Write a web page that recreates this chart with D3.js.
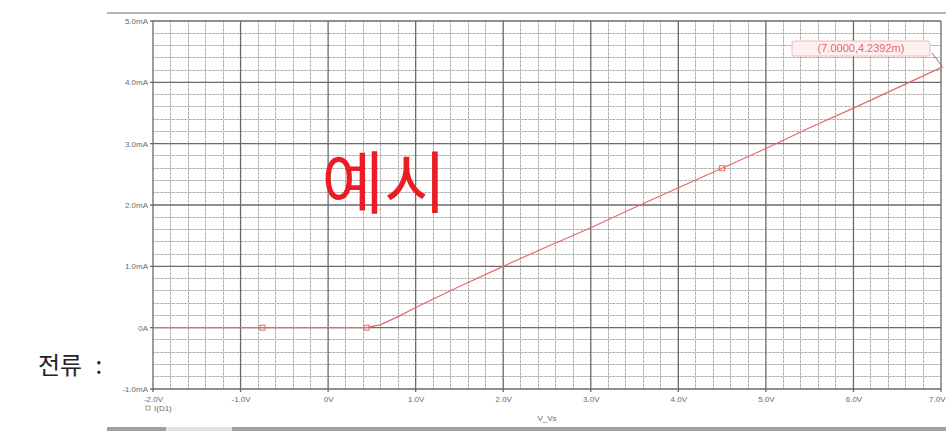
<!DOCTYPE html>
<html>
<head>
<meta charset="utf-8">
<script src="https://cdn.jsdelivr.net/npm/d3@7/dist/d3.min.js"></script>
<style>
  html, body { margin: 0; padding: 0; background: #fff; }
  svg { display: block; }
</style>
</head>
<body>
<div id="chart"></div>
<script>
// ---- Daten ----
const xTicks = [-2, -1, 0, 1, 2, 3, 4, 5, 6, 7];
const xTickLabels = ['-2.0V', '-1.0V', '0V', '1.0V', '2.0V', '3.0V', '4.0V', '5.0V', '6.0V', '7.0V'];
const yTicks = [-1, 0, 1, 2, 3, 4, 5];
const yTickLabels = ['-1.0mA', '0A', '1.0mA', '2.0mA', '3.0mA', '4.0mA', '5.0mA'];

// V_Vs in Volt, I(D1) in mA
const vsVolts =    [-2, -1.5, -0.75, 0, 0.3, 0.44, 0.6, 0.8, 1.0, 1.5, 2.0, 2.5, 3.0, 3.5, 4.0, 4.5, 5.0, 5.5, 6.0, 6.5, 7.0];
const idMilliamps = [0, 0, 0, 0, 0, 0, 0.05, 0.18, 0.33, 0.67, 1.0, 1.32, 1.63, 1.96, 2.28, 2.60, 2.92, 3.26, 3.58, 3.91, 4.2392];
const markerIdx = [2, 5, 15];   // Punkte mit Symbol

const traceName = 'I(D1)';
const xAxisTitle = 'V_Vs';
const cursorLabel = '(7.0000,4.2392m)';
const cursorIdx = vsVolts.length - 1;
const watermark = '예시';
const sideLabel = '전류 :';

const W = 946, H = 431;
const svg = d3.select('#chart').append('svg').attr('width', W).attr('height', H);

const x = d3.scaleLinear().domain([-2, 7]).range([153, 941]);
const y = d3.scaleLinear().domain([-1, 5]).range([389, 21]);

// Fensterrahmen oben
svg.append('line')
  .attr('x1', 107).attr('x2', W).attr('y1', 13).attr('y2', 13)
  .attr('stroke', '#b4b4b4').attr('stroke-width', 2);

// ---- Gitter ----
const gGrid = svg.append('g').attr('class', 'grid');
const xMinor = d3.range(-2, 7.0001, 0.2).filter(v => Math.abs(v - Math.round(v)) > 1e-6);
const yMinor = d3.range(-1, 5.0001, 0.2).filter(v => Math.abs(v - Math.round(v)) > 1e-6);

// feine Linien (hell + Punkte)
[['#cdcdcd', null], ['#959595', '1,3']].forEach(([col, dash]) => {
  gGrid.selectAll(null).data(xMinor).join('line')
    .attr('x1', d => x(d)).attr('x2', d => x(d))
    .attr('y1', y(5)).attr('y2', y(-1))
    .attr('stroke', col).attr('stroke-dasharray', dash)
    .attr('shape-rendering', 'crispEdges');
  gGrid.selectAll(null).data(yMinor).join('line')
    .attr('x1', x(-2)).attr('x2', x(7))
    .attr('y1', d => y(d)).attr('y2', d => y(d))
    .attr('stroke', col).attr('stroke-dasharray', dash)
    .attr('shape-rendering', 'crispEdges');
});

// Hauptlinien
gGrid.selectAll('line.major-x').data(xTicks).join('line')
  .attr('class', 'major-x')
  .attr('x1', d => x(d)).attr('x2', d => x(d))
  .attr('y1', y(5)).attr('y2', y(-1) + 3)
  .attr('stroke', '#6a6a6a').attr('stroke-width', 1.3);
gGrid.selectAll('line.major-y').data(yTicks).join('line')
  .attr('class', 'major-y')
  .attr('x1', x(-2) - 3).attr('x2', x(7))
  .attr('y1', d => y(d)).attr('y2', d => y(d))
  .attr('stroke', '#6a6a6a').attr('stroke-width', 1.3);

// ---- Achsenbeschriftung ----
const tickFont = 'Liberation Sans, Arial, sans-serif';
const xAxis = d3.axisBottom(x).tickValues(xTicks).tickSize(0)
  .tickFormat((d, i) => xTickLabels[i]);
svg.append('g')
  .attr('transform', `translate(0,${y(-1) + 4})`)
  .call(xAxis)
  .call(g => {
    g.select('.domain').remove();
    g.selectAll('text').attr('font-family', tickFont).attr('font-size', 8).attr('fill', '#6a6a6a');
    // letztes Label am rechten Rand bündig, damit es nicht abgeschnitten wird
    g.selectAll('.tick text').filter(d => d === 7).attr('text-anchor', 'end').attr('x', 4);
  });

const yAxis = d3.axisLeft(y).tickValues(yTicks).tickSize(0)
  .tickFormat((d, i) => yTickLabels[i]);
svg.append('g')
  .attr('transform', `translate(${x(-2) - 2},0)`)
  .call(yAxis)
  .call(g => {
    g.select('.domain').remove();
    g.selectAll('text').attr('font-family', tickFont).attr('font-size', 8).attr('fill', '#6a6a6a');
  });

// ---- Kurve ----
const pts = vsVolts.map((v, i) => [v, idMilliamps[i]]);
const line = d3.line().x(d => x(d[0])).y(d => y(d[1]));
svg.append('path')
  .datum(pts)
  .attr('fill', 'none')
  .attr('stroke', '#e46a6a')
  .attr('stroke-width', 1.2)
  .attr('d', line);

svg.selectAll('rect.marker').data(markerIdx.map(i => pts[i])).join('rect')
  .attr('class', 'marker')
  .attr('x', d => x(d[0]) - 2.5).attr('y', d => y(d[1]) - 2.5)
  .attr('width', 5).attr('height', 5)
  .attr('fill', 'none').attr('stroke', '#e46a6a').attr('stroke-width', 1);

// ---- Cursor-Beschriftung ----
const cp = pts[cursorIdx];
const gCur = svg.append('g');
gCur.append('line')
  .attr('x1', 932).attr('y1', 53)
  .attr('x2', x(cp[0]) + 2).attr('y2', y(cp[1]))
  .attr('stroke', '#777').attr('stroke-width', 1);
gCur.append('rect')
  .attr('x', 792).attr('y', 41).attr('width', 138).attr('height', 15).attr('rx', 2)
  .attr('fill', '#fdf0f0').attr('stroke', '#f2b8b8').attr('stroke-width', 1);
gCur.append('text')
  .attr('x', 861).attr('y', 49)
  .attr('text-anchor', 'middle').attr('dominant-baseline', 'middle')
  .attr('font-family', tickFont).attr('font-size', 11)
  .attr('fill', '#e56a6a')
  .text(cursorLabel);

// ---- Legende / Achsentitel ----
svg.append('rect')
  .attr('x', 146).attr('y', 406).attr('width', 4).attr('height', 4)
  .attr('fill', 'none').attr('stroke', '#888').attr('stroke-width', 0.8);
svg.append('text')
  .attr('x', 154).attr('y', 411)
  .attr('font-family', tickFont).attr('font-size', 8).attr('fill', '#6a6a6a')
  .text(traceName);
svg.append('text')
  .attr('x', 547).attr('y', 421).attr('text-anchor', 'middle')
  .attr('font-family', tickFont).attr('font-size', 8).attr('fill', '#6a6a6a')
  .text(xAxisTitle);

// ---- Texte ----
svg.append('text')
  .attr('x', 384).attr('y', 208).attr('text-anchor', 'middle')
  .attr('font-family', 'Noto Sans CJK KR, sans-serif').attr('font-size', 68)
  .attr('font-weight', 400)
  .attr('fill', '#ec1c24')
  .text(watermark);
svg.append('text')
  .attr('x', 38).attr('y', 374)
  .attr('font-family', 'Noto Sans CJK KR, sans-serif').attr('font-size', 24)
  .attr('word-spacing', 8)
  .attr('fill', '#222')
  .text(sideLabel);

// Fensterrahmen unten (Scrollbalken)
svg.append('rect').attr('x', 107).attr('y', 427).attr('width', W - 107).attr('height', 4).attr('fill', '#a0a0a0');
svg.append('rect').attr('x', 166).attr('y', 427).attr('width', 66).attr('height', 4).attr('fill', '#e2e2e2');
</script>
</body>
</html>
